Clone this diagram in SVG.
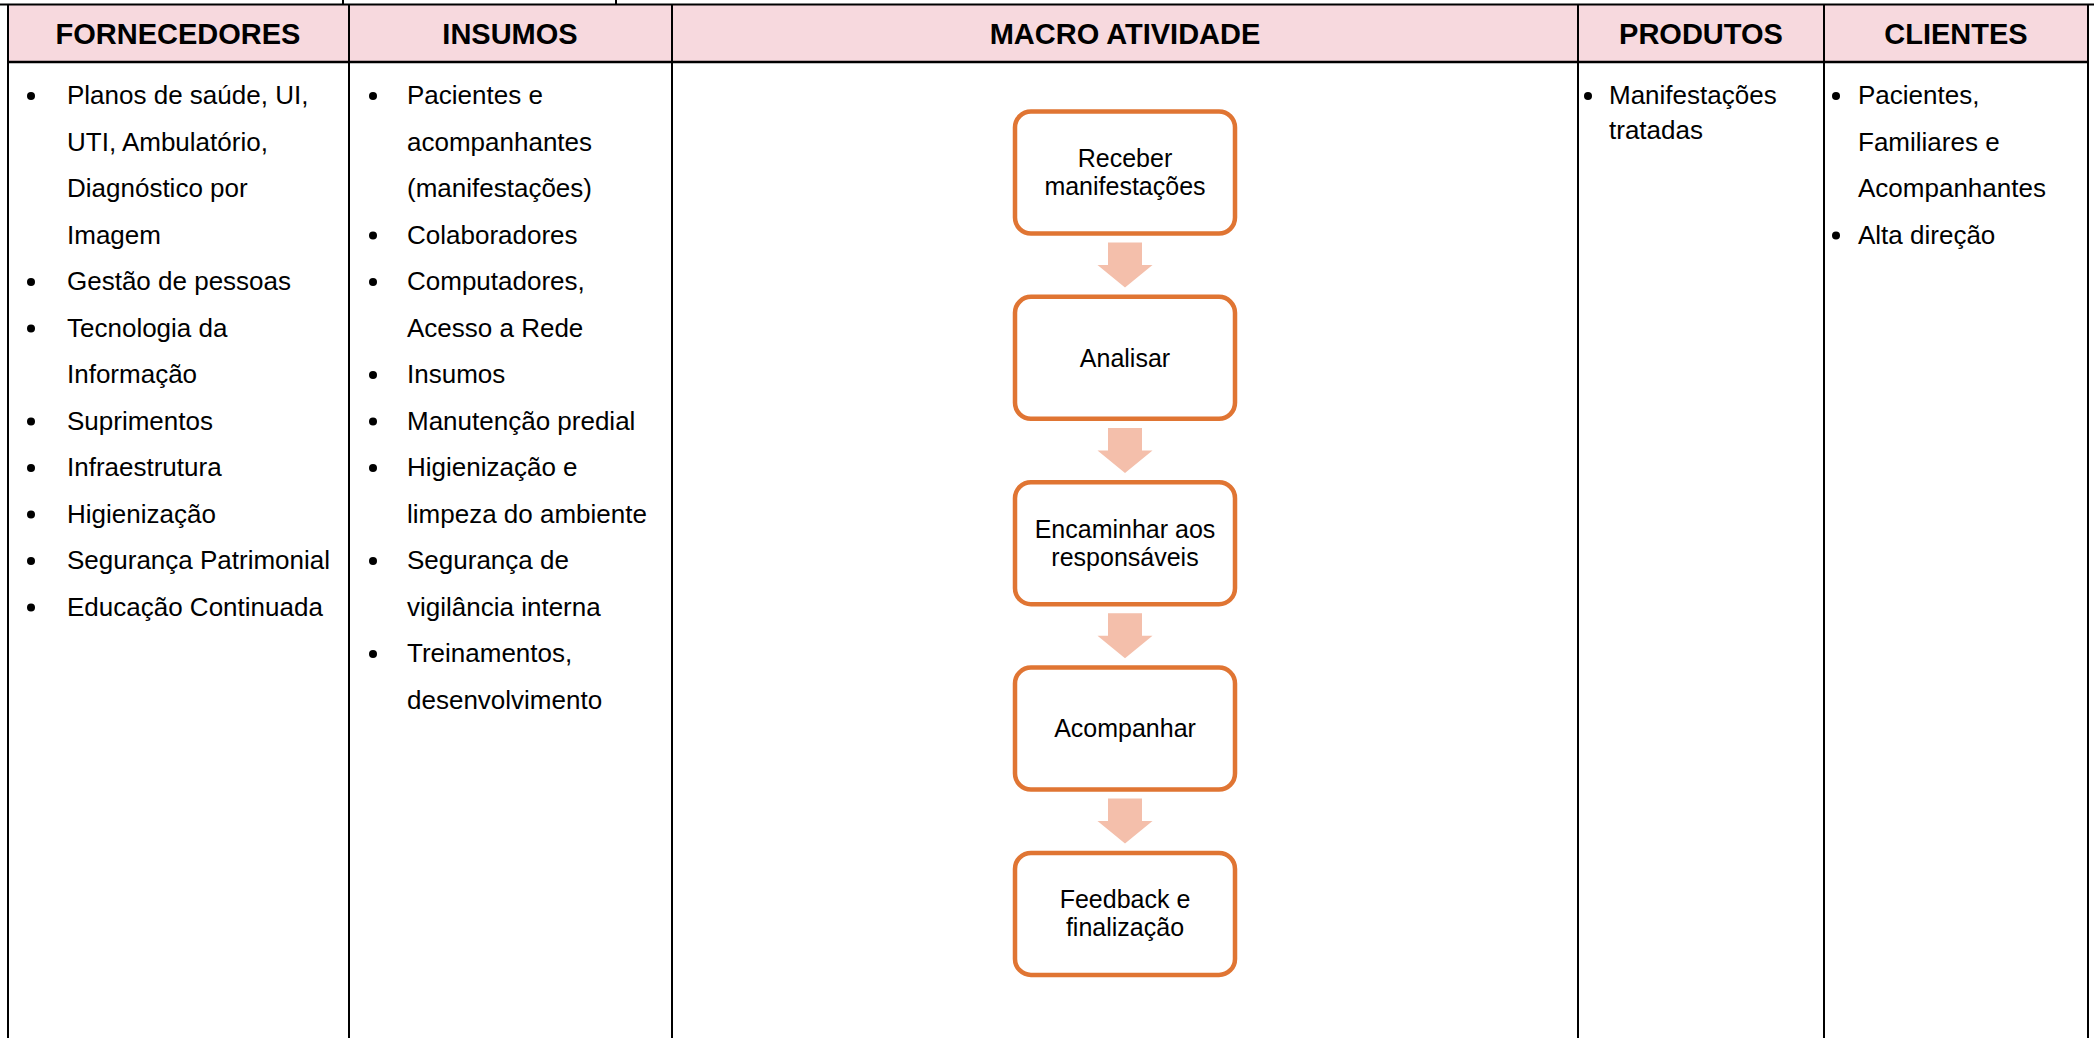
<svg xmlns="http://www.w3.org/2000/svg" width="2094" height="1038" viewBox="0 0 2094 1038">
<style>
.grid{stroke:#000;stroke-width:2;fill:none}
.hdr{font-family:"Liberation Sans",Arial,sans-serif;font-weight:bold;font-size:29px;fill:#000;text-anchor:middle}
.body{font-family:"Liberation Sans",Arial,sans-serif;font-size:26px;fill:#000}
.box{fill:#fff;stroke:#E07533;stroke-width:4.5}
.btxt{font-family:"Liberation Sans",Arial,sans-serif;font-size:25px;fill:#000;text-anchor:middle}
.arr{fill:#F4BFAB}
.dot{fill:#000}
</style>
<rect x="0" y="0" width="2094" height="1038" fill="#fff"/>
<g id="table">
<rect x="8" y="5" width="2080" height="57" fill="#F7D9DE"/>
<line class="grid" x1="0" y1="4.5" x2="2094" y2="4.5"/>
<line class="grid" x1="343" y1="0" x2="343" y2="4"/>
<line class="grid" x1="616" y1="0" x2="616" y2="4"/>
<line class="grid" x1="8" y1="62" x2="2088" y2="62" style="stroke-width:2.5"/>
<line class="grid" x1="8" y1="4" x2="8" y2="1038"/>
<line class="grid" x1="349" y1="4" x2="349" y2="1038"/>
<line class="grid" x1="672" y1="4" x2="672" y2="1038"/>
<line class="grid" x1="1578" y1="4" x2="1578" y2="1038"/>
<line class="grid" x1="1824" y1="4" x2="1824" y2="1038"/>
<line class="grid" x1="2088" y1="4" x2="2088" y2="1038"/>
</g>
<g id="headers">
<text class="hdr" x="178" y="44">FORNECEDORES</text>
<text class="hdr" x="510" y="44">INSUMOS</text>
<text class="hdr" x="1125" y="44">MACRO ATIVIDADE</text>
<text class="hdr" x="1701" y="44">PRODUTOS</text>
<text class="hdr" x="1956" y="44">CLIENTES</text>
</g>
<g id="fornecedores">
<circle class="dot" cx="31" cy="96" r="4"/>
<text class="body" x="67" y="104">Planos de saúde, UI,</text>
<text class="body" x="67" y="150.5">UTI, Ambulatório,</text>
<text class="body" x="67" y="197">Diagnóstico por</text>
<text class="body" x="67" y="243.5">Imagem</text>
<circle class="dot" cx="31" cy="282" r="4"/>
<text class="body" x="67" y="290">Gestão de pessoas</text>
<circle class="dot" cx="31" cy="328.5" r="4"/>
<text class="body" x="67" y="336.5">Tecnologia da</text>
<text class="body" x="67" y="383">Informação</text>
<circle class="dot" cx="31" cy="421.5" r="4"/>
<text class="body" x="67" y="429.5">Suprimentos</text>
<circle class="dot" cx="31" cy="468" r="4"/>
<text class="body" x="67" y="476">Infraestrutura</text>
<circle class="dot" cx="31" cy="514.5" r="4"/>
<text class="body" x="67" y="522.5">Higienização</text>
<circle class="dot" cx="31" cy="561" r="4"/>
<text class="body" x="67" y="569">Segurança Patrimonial</text>
<circle class="dot" cx="31" cy="607.5" r="4"/>
<text class="body" x="67" y="615.5">Educação Continuada</text>
</g>
<g id="insumos">
<circle class="dot" cx="373" cy="96" r="4"/>
<text class="body" x="407" y="104">Pacientes e</text>
<text class="body" x="407" y="150.5">acompanhantes</text>
<text class="body" x="407" y="197">(manifestações)</text>
<circle class="dot" cx="373" cy="235.5" r="4"/>
<text class="body" x="407" y="243.5">Colaboradores</text>
<circle class="dot" cx="373" cy="282" r="4"/>
<text class="body" x="407" y="290">Computadores,</text>
<text class="body" x="407" y="336.5">Acesso a Rede</text>
<circle class="dot" cx="373" cy="375" r="4"/>
<text class="body" x="407" y="383">Insumos</text>
<circle class="dot" cx="373" cy="421.5" r="4"/>
<text class="body" x="407" y="429.5">Manutenção predial</text>
<circle class="dot" cx="373" cy="468" r="4"/>
<text class="body" x="407" y="476">Higienização e</text>
<text class="body" x="407" y="522.5">limpeza do ambiente</text>
<circle class="dot" cx="373" cy="561" r="4"/>
<text class="body" x="407" y="569">Segurança de</text>
<text class="body" x="407" y="615.5">vigilância interna</text>
<circle class="dot" cx="373" cy="654" r="4"/>
<text class="body" x="407" y="662">Treinamentos,</text>
<text class="body" x="407" y="708.5">desenvolvimento</text>
</g>
<g id="produtos">
<circle class="dot" cx="1588" cy="96" r="4"/>
<text class="body" x="1609" y="104">Manifestações</text>
<text class="body" x="1609" y="139">tratadas</text>
</g>
<g id="clientes">
<circle class="dot" cx="1836" cy="96" r="4"/>
<text class="body" x="1858" y="104">Pacientes,</text>
<text class="body" x="1858" y="150.5">Familiares e</text>
<text class="body" x="1858" y="197">Acompanhantes</text>
<circle class="dot" cx="1836" cy="235.5" r="4"/>
<text class="body" x="1858" y="243.5">Alta direção</text>
</g>
<g id="connectors">
<polygon class="arr" points="1108,242.5 1142,242.5 1142,265 1152.5,265 1125,287.5 1097.5,265 1108,265"/>
<polygon class="arr" points="1108,427.9 1142,427.9 1142,450.4 1152.5,450.4 1125,472.9 1097.5,450.4 1108,450.4"/>
<polygon class="arr" points="1108,613.2 1142,613.2 1142,635.7 1152.5,635.7 1125,658.2 1097.5,635.7 1108,635.7"/>
<polygon class="arr" points="1108,798.6 1142,798.6 1142,821.1 1152.5,821.1 1125,843.6 1097.5,821.1 1108,821.1"/>
</g>
<g id="node-receber">
<rect class="box" x="1015" y="111.5" width="220" height="122" rx="16"/>
<text class="btxt" x="1125" y="167">Receber</text>
<text class="btxt" x="1125" y="195">manifestações</text>
</g>
<g id="node-analisar">
<rect class="box" x="1015" y="296.85" width="220" height="122" rx="16"/>
<text class="btxt" x="1125" y="366.5">Analisar</text>
</g>
<g id="node-encaminhar">
<rect class="box" x="1015" y="482.2" width="220" height="122" rx="16"/>
<text class="btxt" x="1125" y="537.7">Encaminhar aos</text>
<text class="btxt" x="1125" y="565.7">responsáveis</text>
</g>
<g id="node-acompanhar">
<rect class="box" x="1015" y="667.55" width="220" height="122" rx="16"/>
<text class="btxt" x="1125" y="737">Acompanhar</text>
</g>
<g id="node-feedback">
<rect class="box" x="1015" y="852.9" width="220" height="122" rx="16"/>
<text class="btxt" x="1125" y="908.4">Feedback e</text>
<text class="btxt" x="1125" y="936.4">finalização</text>
</g>
</svg>
